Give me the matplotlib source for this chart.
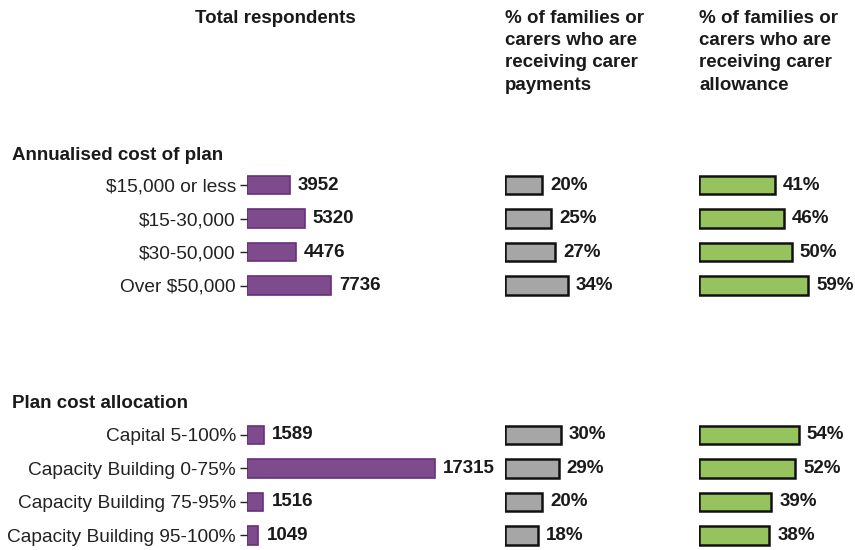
import matplotlib
matplotlib.use("Agg")
from matplotlib import pyplot as plt
from matplotlib import transforms

plt.rcParams["font.family"] = ["Liberation Sans", "DejaVu Sans"]

group_titles = ["Annualised cost of plan", "Plan cost allocation"]
labels_1 = ["$15,000 or less", "$15-30,000", "$30-50,000", "Over $50,000"]
labels_2 = ["Capital 5-100%", "Capacity Building 0-75%",
            "Capacity Building 75-95%", "Capacity Building 95-100%"]
respondents_1 = [3952, 5320, 4476, 7736]
respondents_2 = [1589, 17315, 1516, 1049]
payments_1 = [20, 25, 27, 34]
payments_2 = [30, 29, 20, 18]
allowance_1 = [41, 46, 50, 59]
allowance_2 = [54, 52, 39, 38]

headers = ["Total respondents",
           "% of families or\ncarers who are\nreceiving carer\npayments",
           "% of families or\ncarers who are\nreceiving carer\nallowance"]

# row positions: second group pushed down by a gap
gap = 7.46
y1 = [i for i in range(len(labels_1))]
y2 = [gap + i for i in range(len(labels_2))]
ys = y1 + y2
labels = labels_1 + labels_2

W, H = 855, 550
fig = plt.figure(figsize=(W / 100, H / 100), dpi=100)

top_px, bot_px = 140, 550
pitch = 33.5
ylim = ((bot_px - 185) / pitch, (top_px - 185) / pitch)


def make_ax(left_px, width_px):
    return fig.add_axes([left_px / W, (H - bot_px) / H, width_px / W, (bot_px - top_px) / H])


ax1 = make_ax(247, 250)
ax2 = make_ax(505, 180)
ax3 = make_ax(699, 150)

pct_scale = 1.85  # px per percent
resp_scale = 188 / 17315

ax1.set_xlim(0, 250 / resp_scale)
ax2.set_xlim(0, 180 / pct_scale)
ax3.set_xlim(0, 150 / pct_scale)

panels = [
    (ax1, respondents_1 + respondents_2, resp_scale, "#7e4c8c", "#6b2f7c", 1.2, "{}"),
    (ax2, payments_1 + payments_2, pct_scale, "#a6a6a6", "#111111", 1.8, "{}%"),
    (ax3, allowance_1 + allowance_2, pct_scale, "#97c35f", "#111111", 1.8, "{}%"),
]

for ax, vals, scale, fc, ec, lw, fmt in panels:
    ax.barh(ys, vals, height=0.55, color=fc, edgecolor=ec, linewidth=lw)
    off = 8 / scale
    for y, v in zip(ys, vals):
        ax.text(v + off, y, fmt.format(v), va="center", ha="left",
                fontsize=13.5, fontweight="bold", color="#1a1a1a")
    ax.set_ylim(*ylim)
    for s in ax.spines.values():
        s.set_visible(False)
    ax.set_xticks([])
    ax.set_yticks([])

ax1.set_yticks(ys)
ax1.set_yticklabels(labels, fontsize=13.8, color="#222222")
ax1.tick_params(axis="y", length=5, width=1, color="#222222", pad=3)

trans = transforms.blended_transform_factory(fig.transFigure, ax1.transData)
ax1.text(12 / W, (155 - 185) / pitch, group_titles[0], transform=trans,
         fontsize=13.5, fontweight="bold", va="center", ha="left", color="#1a1a1a")
ax1.text(12 / W, (403 - 185) / pitch, group_titles[1], transform=trans,
         fontsize=13.5, fontweight="bold", va="center", ha="left", color="#1a1a1a")

fig.text(275 / W, 1 - 10 / H, headers[0], fontsize=13.5, fontweight="bold",
         ha="center", va="top", color="#1a1a1a")
fig.text(505 / W, 1 - 10 / H, headers[1], fontsize=13.5, fontweight="bold",
         ha="left", va="top", color="#1a1a1a", linespacing=1.4)
fig.text(699 / W, 1 - 10 / H, headers[2], fontsize=13.5, fontweight="bold",
         ha="left", va="top", color="#1a1a1a", linespacing=1.4)

fig.savefig("out.png", dpi=100)
